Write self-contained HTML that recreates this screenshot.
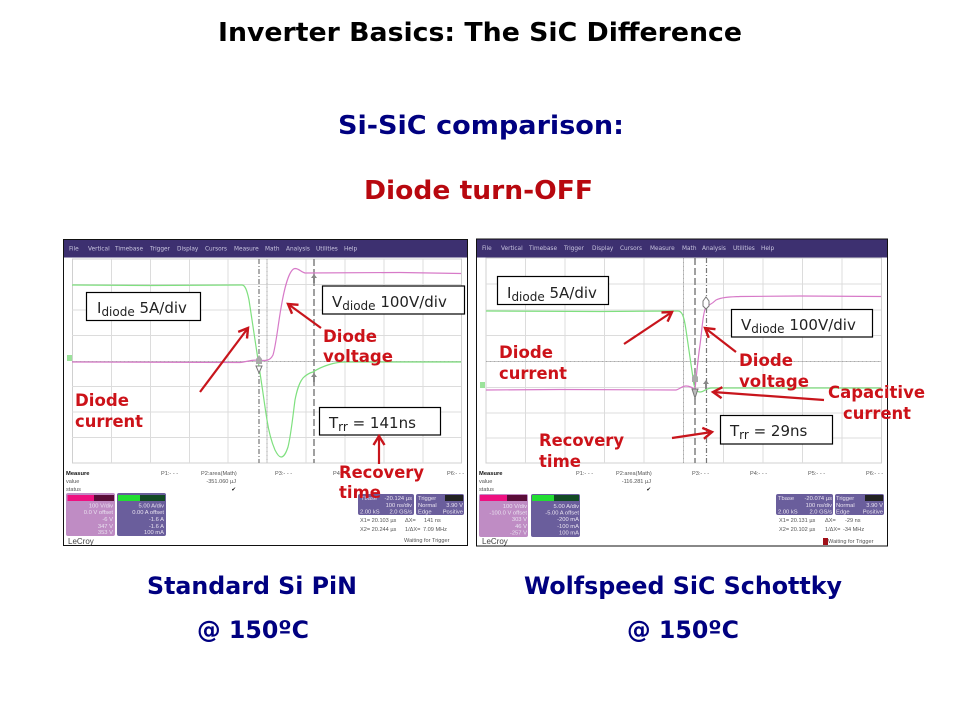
<!DOCTYPE html>
<html lang="en">
<head>
<meta charset="utf-8">
<title>Inverter Basics: The SiC Difference</title>
<style>
html,body{margin:0;padding:0;background:#fff;width:960px;height:720px;overflow:hidden}
svg{display:block}
text{font-family:"DejaVu Sans","Liberation Sans",sans-serif}
.h{font-weight:bold;fill:#000080;font-size:24px}
.h2{font-weight:bold;fill:#000080;font-size:25.5px}
.r{font-weight:bold;fill:#cc1219;font-size:16.5px}
.menu{font-size:5.8px;fill:#c9c5df}
.t{font-size:5.6px;fill:#555;font-family:"Liberation Sans",sans-serif}
.tb{font-size:5.8px;fill:#111;font-weight:bold;font-family:"Liberation Sans",sans-serif}
.p{font-size:5.8px;fill:#e9e3f0;font-family:"Liberation Sans",sans-serif}
.grid{stroke:#dcdcdc;stroke-width:1;fill:none}
.cen{stroke:#aaa;stroke-width:1;stroke-dasharray:1 3;fill:none}
.box{fill:#fff;stroke:#000;stroke-width:1.2}
.bt{font-size:15px;fill:#222}
.sub{font-size:12px}
.arr{stroke:#c8151c;stroke-width:2.2;fill:none}
.g{stroke:#7fe07f;stroke-width:1.2;fill:none}
.m{stroke:#d77ac8;stroke-width:1.2;fill:none}
.c1{stroke:#777;stroke-width:1.2;stroke-dasharray:5 2 1 2;fill:none}
.c2{stroke:#888;stroke-width:1.6;stroke-dasharray:7 3;fill:none}
.soft{filter:blur(.35px)}
</style>
</head>
<body>
<svg width="960" height="720" viewBox="0 0 960 720" xmlns="http://www.w3.org/2000/svg">
<defs>
<marker id="a" markerUnits="userSpaceOnUse" markerWidth="16" markerHeight="16" refX="12" refY="8" orient="auto">
<path d="M3,2.5 L12,8 L3,13.5" fill="none" stroke="#c8151c" stroke-width="2.4"/>
</marker>
</defs>
<rect width="960" height="720" fill="#fff"/>

<text x="218" y="41" font-size="25.5" font-weight="bold" fill="#000" textLength="524" lengthAdjust="spacingAndGlyphs">Inverter Basics: The SiC Difference</text>
<text class="h2" x="338" y="134" textLength="286" lengthAdjust="spacingAndGlyphs">Si-SiC comparison:</text>
<text class="h2" x="364" y="199" style="fill:#b8080f" textLength="229" lengthAdjust="spacingAndGlyphs">Diode turn-OFF</text>

<!-- LEFT SCOPE -->
<rect x="63.5" y="239.5" width="404" height="306" fill="#fff" stroke="#111" stroke-width="1"/>
<g class="soft">
<rect x="64" y="240" width="403" height="17.5" fill="#3d3070"/>
<text class="menu" y="250.5"><tspan x="69">File</tspan><tspan x="88">Vertical</tspan><tspan x="115">Timebase</tspan><tspan x="150">Trigger</tspan><tspan x="177">Display</tspan><tspan x="205">Cursors</tspan><tspan x="234">Measure</tspan><tspan x="265">Math</tspan><tspan x="286">Analysis</tspan><tspan x="316">Utilities</tspan><tspan x="344">Help</tspan></text>
<rect x="72.5" y="259" width="389" height="204" fill="#fff" stroke="#d0d0d0"/>
<path class="grid" d="M111.5 259V463M150.5 259V463M189.5 259V463M228 259V463M306 259V463M345 259V463M384 259V463M423 259V463M72 284.500H461M72 310H461M72 335.500H461M72 386.500H461M72 412H461M72 437.500H461"/>
<path d="M267 259V463M72 361.500H461" stroke="#c4c4c4" fill="none"/>
<path class="cen" d="M267 259V463M72 361.500H461" stroke="#888"/>
<path class="c1" d="M259 259V463"/>
<path class="c2" d="M314 259V463"/>
<path class="g" d="M72 285 L150 285.500 L242 285 C245 285 247 290 249 300 L260 373 C263 392 265 408 267 420 C269 433 272 443 275 450 C277 454 279 457 281 457 C284 457 286 453 288 447 C291 435 293 415 295 400 C297 390 299 383 303 378 C306 375 309 373 313 372 C322 366 335 362 345 362 L461 362"/>
<path class="m" d="M72 362 L240 362.500 C246 362 250 360 258 360 C266 361 270 361 273 355 C276 345 278 325 281 308 C284 290 289 269 295 268.500 C299 268.500 301 272 305 273 L400 272.500 L461 273.500"/>
<path d="M256 359l3-4 3 4v5h-6z" fill="#aaa"/><path d="M256 366h6l-3 7z" fill="#fff" stroke="#777"/>
<path d="M311 278l3-4 3 4h-2v5h-2v-5z" fill="#888"/><path d="M311 377l3-4 3 4h-2v5h-2v-5z" fill="#888"/>
<rect x="67" y="355" width="5" height="6" fill="#9be39b"/>

<text class="tb" x="66" y="475">Measure</text>
<text class="t" x="66" y="483">value</text><text class="t" x="66" y="491">status</text>
<text class="t" x="161" y="475">P1:- - -</text><text class="t" x="201" y="475">P2:area(Math)</text>
<text class="t" x="236" y="483" text-anchor="end">-351.060 µJ</text><text class="t" x="236" y="491" text-anchor="end" style="fill:#111">✔</text>
<text class="t" x="275" y="475">P3:- - -</text><text class="t" x="333" y="475">P4:- - -</text><text class="t" x="447" y="475">P6:- - -</text>
<rect x="66" y="493" width="49" height="43" rx="2" fill="#bf8cc4"/><rect x="67.500" y="495" width="46" height="6" fill="#ee1080"/><rect x="94" y="495" width="20" height="6" fill="#5a0c38"/>
<rect x="117" y="493" width="49" height="43" rx="2" fill="#6a5e9c"/><rect x="118" y="495" width="47" height="6" fill="#22dd33"/><rect x="140" y="495" width="25" height="6" fill="#124a24"/>
<text class="p" text-anchor="end"><tspan x="113" y="507.500">100 V/div</tspan><tspan x="113" y="514">0.0 V offset</tspan><tspan x="113" y="521">-6 V</tspan><tspan x="113" y="528">347 V</tspan><tspan x="113" y="534">353 V</tspan></text>
<text class="p" text-anchor="end"><tspan x="164" y="507.500">5.00 A/div</tspan><tspan x="164" y="514">0.00 A offset</tspan><tspan x="164" y="521">-1.6 A</tspan><tspan x="164" y="528">-1.6 A</tspan><tspan x="164" y="534">100 mA</tspan></text>
<text x="68" y="544" font-size="8" fill="#444" style="font-family:'Liberation Sans',sans-serif">LeCroy</text>
<rect x="358" y="494" width="56" height="21" rx="2" fill="#6a5e9c"/><rect x="416" y="494" width="48" height="21" rx="2" fill="#6a5e9c"/><rect x="445" y="495" width="18" height="6" fill="#222"/>
<text class="p"><tspan x="361" y="500">Tbase</tspan><tspan x="412" y="500" text-anchor="end">-20.124 µs</tspan><tspan x="412" y="507" text-anchor="end">100 ns/div</tspan><tspan x="360" y="513.500">2.00 kS</tspan><tspan x="412" y="513.500" text-anchor="end">2.0 GS/s</tspan></text>
<text class="p"><tspan x="418" y="500">Trigger</tspan><tspan x="418" y="507">Normal</tspan><tspan x="463" y="507" text-anchor="end">3.90 V</tspan><tspan x="418" y="513.500">Edge</tspan><tspan x="463" y="513.500" text-anchor="end">Positive</tspan></text>
<text class="t"><tspan x="360" y="522">X1= 20.103 µs</tspan><tspan x="405" y="522">ΔX=</tspan><tspan x="424" y="522">141 ns</tspan><tspan x="360" y="531">X2= 20.244 µs</tspan><tspan x="405" y="531">1/ΔX=</tspan><tspan x="423" y="531">7.09 MHz</tspan><tspan x="404" y="542">Waiting for Trigger</tspan></text>
</g>

<!-- RIGHT SCOPE -->
<rect x="476.500" y="239" width="411" height="307" fill="#fff" stroke="#111" stroke-width="1"/>
<g class="soft">
<rect x="477" y="239.500" width="410" height="18" fill="#3d3070"/>
<text class="menu" y="250"><tspan x="482">File</tspan><tspan x="501">Vertical</tspan><tspan x="529">Timebase</tspan><tspan x="564">Trigger</tspan><tspan x="592">Display</tspan><tspan x="620">Cursors</tspan><tspan x="650">Measure</tspan><tspan x="682">Math</tspan><tspan x="702">Analysis</tspan><tspan x="733">Utilities</tspan><tspan x="761">Help</tspan></text>
<rect x="486" y="258" width="395.500" height="205" fill="#fff" stroke="#d0d0d0"/>
<path class="grid" d="M525.500 258V463M565 258V463M604.500 258V463M644 258V463M723.500 258V463M763 258V463M802.500 258V463M842 258V463M486 284H881M486 310H881M486 335.500H881M486 387.500H881M486 413H881M486 438H881"/>
<path d="M683.500 258V463M486 361.500H881" stroke="#c4c4c4" fill="none"/>
<path class="cen" d="M683.500 258V463M486 361.500H881" stroke="#888"/>
<path class="c2" d="M695 258V463"/>
<path class="c1" d="M706.500 258V463"/>
<path class="g" d="M486 311 L600 311.500 L678 311 C682 311 684 316 686 330 L693 378 C694 388 696 392 700 392 C704 392 706 388 712 388 L881 388"/>
<path class="m" d="M486 390 L560 389.500 L676 390 C680 389 682 386 686 386 C690 386 693 388 695 390 C696 380 698 358 700 345 C702 330 703 312 706 307 C709 305 712 304 716 300 C722 297 730 297 740 296.500 L800 296 L881 296.500"/>
<path d="M692 377l3-4 3 4v5h-6z" fill="#aaa"/><path d="M692 389h6l-3 9z" fill="#bbb" stroke="#777"/>
<path d="M703 301l3-4 3 4v5l-3 3-3-3z" fill="#fff" stroke="#777"/><path d="M703 384l3-4 3 4h-2v5h-2v-5z" fill="#888"/>
<rect x="480" y="382" width="5" height="6" fill="#9be39b"/>

<text class="tb" x="479" y="475">Measure</text>
<text class="t" x="479" y="483">value</text><text class="t" x="479" y="491">status</text>
<text class="t" x="576" y="475">P1:- - -</text><text class="t" x="616" y="475">P2:area(Math)</text>
<text class="t" x="651" y="483" text-anchor="end">-116.281 µJ</text><text class="t" x="651" y="491" text-anchor="end" style="fill:#111">✔</text>
<text class="t" x="692" y="475">P3:- - -</text><text class="t" x="750" y="475">P4:- - -</text><text class="t" x="808" y="475">P5:- - -</text><text class="t" x="866" y="475">P6:- - -</text>
<rect x="479" y="494" width="49" height="43" rx="2" fill="#bf8cc4"/><rect x="480" y="495" width="47" height="6" fill="#ee1080"/><rect x="507" y="495" width="20" height="6" fill="#5a0c38"/>
<rect x="531" y="494" width="49" height="43" rx="2" fill="#6a5e9c"/><rect x="532" y="495" width="47" height="6" fill="#22dd33"/><rect x="554" y="495" width="25" height="6" fill="#124a24"/>
<text class="p" text-anchor="end"><tspan x="527" y="508">100 V/div</tspan><tspan x="527" y="514.500">-100.0 V offset</tspan><tspan x="527" y="521">303 V</tspan><tspan x="527" y="528">46 V</tspan><tspan x="527" y="534.500">-257 V</tspan></text>
<text class="p" text-anchor="end"><tspan x="579" y="508">5.00 A/div</tspan><tspan x="579" y="514.500">-5.00 A offset</tspan><tspan x="579" y="521">-200 mA</tspan><tspan x="579" y="528">-100 mA</tspan><tspan x="579" y="534.500">100 mA</tspan></text>
<text x="482" y="544" font-size="8" fill="#444" style="font-family:'Liberation Sans',sans-serif">LeCroy</text>
<rect x="776" y="494" width="57" height="21" rx="2" fill="#6a5e9c"/><rect x="835" y="494" width="49" height="21" rx="2" fill="#6a5e9c"/><rect x="865" y="495" width="18" height="6" fill="#222"/>
<text class="p"><tspan x="778" y="500">Tbase</tspan><tspan x="832" y="500" text-anchor="end">-20.074 µs</tspan><tspan x="832" y="507" text-anchor="end">100 ns/div</tspan><tspan x="778" y="513.500">2.00 kS</tspan><tspan x="832" y="513.500" text-anchor="end">2.0 GS/s</tspan></text>
<text class="p"><tspan x="836" y="500">Trigger</tspan><tspan x="836" y="507">Normal</tspan><tspan x="883" y="507" text-anchor="end">3.90 V</tspan><tspan x="836" y="513.500">Edge</tspan><tspan x="883" y="513.500" text-anchor="end">Positive</tspan></text>
<text class="t"><tspan x="779" y="522">X1= 20.131 µs</tspan><tspan x="825" y="522">ΔX=</tspan><tspan x="845" y="522">-29 ns</tspan><tspan x="779" y="531">X2= 20.102 µs</tspan><tspan x="825" y="531">1/ΔX=</tspan><tspan x="843" y="531">-34 MHz</tspan><tspan x="828" y="543">Waiting for Trigger</tspan></text>
<rect x="823" y="538" width="5" height="7" fill="#a01018"/>
</g>

<!-- label boxes -->
<rect class="box" x="86.500" y="292.500" width="114" height="28"/>
<text class="bt" x="97" y="313">I<tspan class="sub" dy="3">diode</tspan><tspan dy="-3"> 5A/div</tspan></text>
<rect class="box" x="322.500" y="286" width="142" height="28"/>
<text class="bt" x="332" y="307">V<tspan class="sub" dy="3">diode</tspan><tspan dy="-3"> 100V/div</tspan></text>
<rect class="box" x="319.500" y="407.500" width="121" height="27.500"/>
<text class="bt" x="329" y="428">T<tspan class="sub" dy="3">rr</tspan><tspan dy="-3"> = 141ns</tspan></text>
<rect class="box" x="497.500" y="276.500" width="111" height="28"/>
<text class="bt" x="507" y="298">I<tspan class="sub" dy="3">diode</tspan><tspan dy="-3"> 5A/div</tspan></text>
<rect class="box" x="731.500" y="309.500" width="141" height="27.500"/>
<text class="bt" x="741" y="330">V<tspan class="sub" dy="3">diode</tspan><tspan dy="-3"> 100V/div</tspan></text>
<rect class="box" x="720.500" y="415.500" width="112" height="28.500"/>
<text class="bt" x="730" y="436">T<tspan class="sub" dy="3">rr</tspan><tspan dy="-3"> = 29ns</tspan></text>

<!-- arrows -->
<line class="arr" x1="200" y1="392" x2="248" y2="328" marker-end="url(#a)"/>
<line class="arr" x1="321" y1="328" x2="288" y2="304" marker-end="url(#a)"/>
<line class="arr" x1="379" y1="464" x2="379" y2="436" marker-end="url(#a)"/>
<line class="arr" x1="624" y1="344" x2="672" y2="312" marker-end="url(#a)"/>
<line class="arr" x1="736" y1="352" x2="705" y2="328" marker-end="url(#a)"/>
<line class="arr" x1="824" y1="400" x2="713" y2="392" marker-end="url(#a)"/>
<line class="arr" x1="672" y1="438" x2="712" y2="432" marker-end="url(#a)"/>

<!-- red labels -->
<text class="r" x="75" y="406" textLength="54" lengthAdjust="spacingAndGlyphs">Diode</text>
<text class="r" x="75" y="427" textLength="68" lengthAdjust="spacingAndGlyphs">current</text>
<text class="r" x="323" y="342" textLength="54" lengthAdjust="spacingAndGlyphs">Diode</text>
<text class="r" x="323" y="362" textLength="70" lengthAdjust="spacingAndGlyphs">voltage</text>
<text class="r" x="339" y="478" textLength="85" lengthAdjust="spacingAndGlyphs">Recovery</text>
<text class="r" x="339" y="498" textLength="42" lengthAdjust="spacingAndGlyphs">time</text>
<text class="r" x="499" y="358" textLength="54" lengthAdjust="spacingAndGlyphs">Diode</text>
<text class="r" x="499" y="379" textLength="68" lengthAdjust="spacingAndGlyphs">current</text>
<text class="r" x="739" y="366" textLength="54" lengthAdjust="spacingAndGlyphs">Diode</text>
<text class="r" x="739" y="387" textLength="70" lengthAdjust="spacingAndGlyphs">voltage</text>
<text class="r" x="828" y="398" textLength="97" lengthAdjust="spacingAndGlyphs">Capacitive</text>
<text class="r" x="843" y="419" textLength="68" lengthAdjust="spacingAndGlyphs">current</text>
<text class="r" x="539" y="446" textLength="85" lengthAdjust="spacingAndGlyphs">Recovery</text>
<text class="r" x="539" y="467" textLength="42" lengthAdjust="spacingAndGlyphs">time</text>

<!-- captions -->
<text class="h" x="147" y="594" textLength="210" lengthAdjust="spacingAndGlyphs">Standard Si PiN</text>
<text class="h" x="197" y="638" textLength="112" lengthAdjust="spacingAndGlyphs">@ 150ºC</text>
<text class="h" x="524" y="594" textLength="318" lengthAdjust="spacingAndGlyphs">Wolfspeed SiC Schottky</text>
<text class="h" x="627" y="638" textLength="112" lengthAdjust="spacingAndGlyphs">@ 150ºC</text>
</svg>
</body>
</html>
